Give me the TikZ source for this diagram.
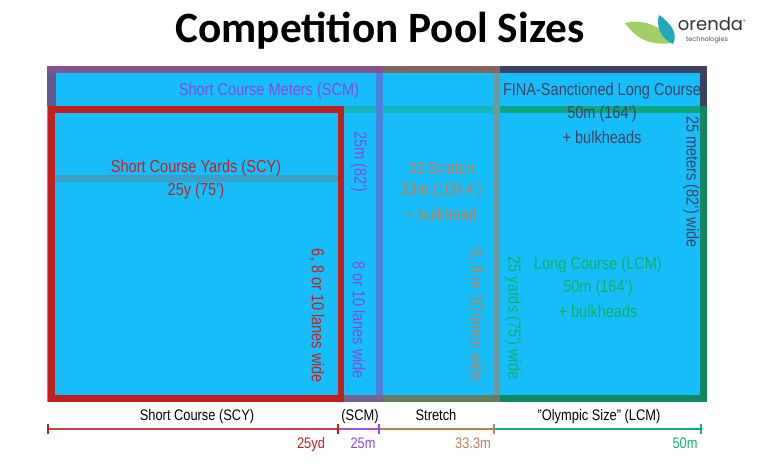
\documentclass[tikz,border=0pt]{standalone}
\usepackage{fontspec}
\setmainfont[FakeStretch=0.84]{Liberation Sans}
\newfontfamily\titlefont{Carlito}
\newfontfamily\logofont{Poppins}
\definecolor{pool}{HTML}{17BEFB}
\definecolor{scycol}{HTML}{C12020}
\definecolor{scmcol}{HTML}{8B48DC}
\definecolor{scmtop}{HTML}{7F5590}
\definecolor{scmleft}{HTML}{5F5A95}
\definecolor{scmband}{HTML}{4F80DB}
\definecolor{scmlow}{HTML}{75638F}
\definecolor{stretchcol}{HTML}{BE8058}
\definecolor{stretchtop}{HTML}{80685F}
\definecolor{stretchband}{HTML}{6F9A9F}
\definecolor{stretchlow}{HTML}{667E5E}
\definecolor{finacol}{HTML}{3D4260}
\definecolor{lcmcol}{HTML}{12865E}
\definecolor{lcmtop}{HTML}{0EA680}
\definecolor{lcmthin}{HTML}{16B5BF}
\definecolor{lcmtext}{HTML}{12B06C}
\definecolor{scyband}{HTML}{3AA0C8}
\definecolor{leafcol}{HTML}{A2CF66}
\definecolor{dropcol}{HTML}{1FA9BF}
\tikzset{
  lbl/.style={inner sep=0pt,font=\fontsize{17.3}{19}\selectfont},
  side/.style={lbl,rotate=-90},
  rul/.style={inner sep=0pt,anchor=base,font=\fontsize{15.3}{17}\selectfont},
  tick/.style={line width=1.4pt}
}
\begin{document}
\begin{tikzpicture}[x=1pt,y=-1pt]
\useasboundingbox (0,0) rectangle (760,475);
% pool and bands
\fill[pool] (47,66) rectangle (707,402);
\fill[finacol] (500,66) rectangle (707,73);
\fill[finacol] (700,66) rectangle (707,106);
\fill[stretchtop] (383,66) rectangle (500,73);
\fill[scmtop] (47,66) rectangle (383,73);
\fill[scmleft] (47,73) rectangle (56,106);
\fill[lcmthin] (344,106) rectangle (493,113);
\fill[lcmtop] (500,106) rectangle (700,113);
\fill[lcmcol] (700,106) rectangle (707,402);
\fill[lcmcol] (500,395) rectangle (707,402);
\fill[scmband] (376,73) rectangle (383,395);
\fill[stretchband] (493,73) rectangle (500,395);
\fill[stretchlow] (383,395) rectangle (500,402);
\fill[scmlow] (344,395) rectangle (383,402);
\fill[scyband] (55,175) rectangle (338,182);
\draw[scycol,line width=6.5pt] (51.5,109.5) rectangle (341,398.5);
% title and logo
\node (title) at (380,31) [inner sep=0pt,font=\titlefont\bfseries\fontsize{43.3}{46}\selectfont] {Competition Pool Sizes};
\fill[leafcol] (625,23) .. controls (645,18) and (665,28) .. (672,43) .. controls (650,46) and (635,38) .. (625,23);
\fill[dropcol] (659,15) .. controls (672,24) and (678,34) .. (673,44) .. controls (660,38) and (656,26) .. (659,15);
\node (logo) at (712,25) [inner sep=0pt,text height=10pt,text depth=0pt,text=black!80,font=\logofont\fontsize{18}{20}\selectfont] {orenda\textsuperscript{\tiny®}};
\node (logosub) at (707,39) [inner sep=0pt,text height=5pt,text depth=1pt,text=black!70,font=\logofont\fontsize{6.5}{8}\selectfont] {technologies};
% pool labels
\node (scmname) at (269,91) [lbl,text=scmcol] {Short Course Meters (SCM)};
\node (scyname) at (196,168) [lbl,text=scycol] {Short Course Yards (SCY)};
\node (scylen) at (196,191) [lbl,text=scycol] {25y (75')};
\node (strname) at (441,168) [lbl,text=stretchcol] {33 Stretch};
\node (strlen) at (441,191) [lbl,text=stretchcol] {33m (109.4')};
\node (strbulk) at (441,214) [lbl,text=stretchcol] {+ bulkhead};
\node (finaname) at (602,91) [lbl,text=finacol] {FINA-Sanctioned Long Course};
\node (finalen) at (602,114) [lbl,text=finacol] {50m (164')};
\node (finabulk) at (602,137) [lbl,text=finacol] {+ bulkheads};
\node (lcmname) at (598,265) [lbl,text=lcmtext] {Long Course (LCM)};
\node (lcmlen) at (598,288) [lbl,text=lcmtext] {50m (164')};
\node (lcmbulk) at (598,311) [lbl,text=lcmtext] {+ bulkheads};
% side labels
\node (scmlen) at (359,162) [side,text=scmcol] {25m (82')};
\node (scmwide) at (359,320) [side,text=scmcol] {8 or 10 lanes wide};
\node (scywide) at (317,316) [side,text=scycol] {6, 8 or 10 lanes wide};
\node (strwide) at (476,316) [side,text=stretchcol] {6, 8 or 10 lanes wide};
\node (lcmwide) at (513,318) [side,text=lcmtext] {25 yards (75') wide};
\node (finawide) at (691,182) [side,text=finacol] {25 meters (82') wide};
% ruler
\coordinate (r0) at (48,429);
\coordinate (r1) at (338,429);
\coordinate (r2) at (379,429);
\coordinate (r3) at (494,429);
\coordinate (r4) at (701,429);
\draw[scycol!85!white,line width=1.6pt] (r0) -- (r1);
\draw[scmcol!90!white,line width=1.6pt] (r1) -- (r2);
\draw[stretchcol!90!olive,line width=1.6pt] (r2) -- (r3);
\draw[lcmtext,line width=1.6pt] (r3) -- (r4);
\draw[tick,scycol] ([yshift=-5pt]r0) -- ([yshift=5pt]r0);
\draw[tick,scycol] ([yshift=-5pt]r1) -- ([yshift=5pt]r1);
\draw[tick,scmcol] ([yshift=-5pt]r2) -- ([yshift=5pt]r2);
\draw[tick,stretchcol] ([yshift=-5pt]r3) -- ([yshift=5pt]r3);
\draw[tick,lcmtext] ([yshift=-5pt]r4) -- ([yshift=5pt]r4);
\node (scyrul) at (197,420) [rul] {Short Course (SCY)};
\node (scmrul) at (360,420) [rul] {(SCM)};
\node (strrul) at (436,420) [rul] {Stretch};
\node (lcmrul) at (599,420) [rul] {"Olympic Size" (LCM)};
\node (d1) at (311,448.5) [rul,text=scycol] {25yd};
\node (d2) at (363,448.5) [rul,text=scmcol] {25m};
\node (d3) at (473,448.5) [rul,text=stretchcol] {33.3m};
\node (d4) at (685,448.5) [rul,text=lcmtext] {50m};
\end{tikzpicture}
\end{document}
